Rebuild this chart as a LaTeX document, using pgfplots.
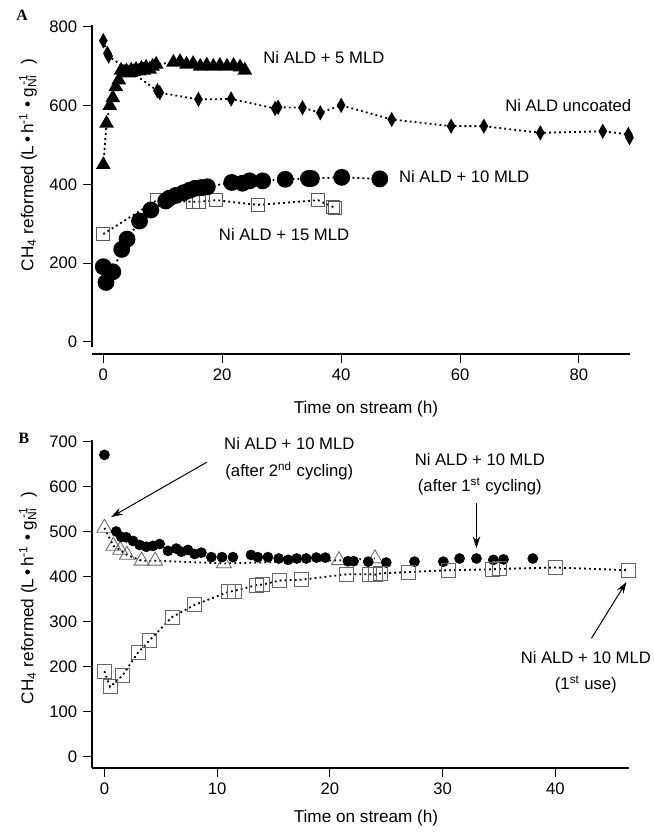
\documentclass[border=0pt]{standalone}
\usepackage{fontspec}
\setmainfont{Liberation Sans}
\newfontfamily\seriffont{Liberation Serif}
\usepackage{pgfplots}
\pgfplotsset{compat=1.18}
\usetikzlibrary{arrows.meta}

\pgfplotsset{
 igor/.style={
  scale only axis,
  axis lines=left,
  axis line style={-, line width=0.8pt},
  tick style={line width=0.6pt, black},
  major tick length=5.4pt,
  tick align=outside,
  /pgf/number format/assume math mode=true,
  tick label style={font=\fontsize{10}{12}\selectfont},
  clip=false,
 },
}
\tikzset{
 dotline/.style={black, line width=1.1pt, dash pattern=on 1.1pt off 1.9pt},
 lab/.style={font=\fontsize{10}{16}\selectfont, align=center},
}

\begin{document}
\begin{tikzpicture}
\useasboundingbox (0,0) rectangle (392.4pt,-499.8pt);

% ---------------- Panel A ----------------
\begin{axis}[igor, at={(55.2pt,-208.2pt)}, anchor=south west,
  width=322.5pt, height=193.2pt,
  xmin=-1.9, xmax=88.5, ymin=-13, ymax=805,
  x axis line style={yshift=-4.2pt},
  xtick style={yshift=-4.2pt},
  xticklabel style={yshift=-4.2pt},
  xtick={0,20,...,80}, ytick={0,200,...,800}]
% Ni ALD + 15 MLD (open squares)
\addplot[dotline, mark=square, mark size=3.9pt,
  mark options={solid, draw=black!65, line width=0.5pt}] coordinates {
 (0,274) (9.0,360) (15.1,356) (16.0,356) (19.0,360) (26.0,348) (36.1,360) (38.6,343) (39.0,341)};
% Ni ALD + 10 MLD (filled circles)
\addplot[dotline, mark=*, mark size=4.5pt, mark options={solid, fill=black}] coordinates {
 (0,191) (0.45,151) (1.6,178) (3.1,235) (4.0,261) (6.1,307) (8.0,335) (10.5,358) (11.1,365)
 (12.2,372) (13.5,379) (14.5,385) (15.4,390) (16.5,392) (17.5,394) (21.6,405) (23.4,403)
 (24.6,409) (26.8,409) (30.6,413) (34.5,415) (35.0,415) (40.1,418) (46.5,414)};
% Ni ALD + 5 MLD (filled triangles)
\addplot[dotline, mark=triangle*, mark size=4pt, mark options={solid, fill=black}] coordinates {
 (0,450) (0.55,555) (1.1,600) (1.6,620) (2.1,648) (2.6,665) (3.0,690) (3.5,685) (3.9,688)
 (4.3,683) (4.7,690) (5.1,686) (5.5,692) (6.0,688) (6.4,695) (6.8,690) (7.2,697) (7.8,692)
 (8.3,700) (8.9,705) (11.8,710) (12.9,712) (14.0,705) (15.1,707) (16.3,700) (17.4,703)
 (18.5,700) (19.6,702) (20.8,700) (21.9,702) (23.0,698) (23.8,690)};
% Ni ALD uncoated (filled diamonds)
\addplot[dotline, mark=diamond*, mark size=3.5pt, mark options={solid, fill=black, xscale=0.75}] coordinates {
 (0,765) (0.7,733) (0.9,726) (9.1,638) (9.5,633) (16.0,616) (21.5,617) (28.9,593) (29.4,596)
 (33.5,595) (36.5,582) (40.0,601) (48.5,565) (58.5,548) (64.0,548) (73.5,531) (84.0,535)
 (88.3,527) (88.5,519)};
\node[lab] at (axis cs:37.1,723) {Ni ALD + 5 MLD};
\node[lab] at (axis cs:78.2,601) {Ni ALD uncoated};
\node[lab] at (axis cs:60.7,421) {Ni ALD + 10 MLD};
\node[lab] at (axis cs:30.4,272) {Ni ALD + 15 MLD};
\end{axis}

% ---------------- Panel B ----------------
\begin{axis}[igor, at={(55.2pt,-460.8pt)}, anchor=south west,
  width=322pt, height=196.8pt,
  xmin=-1.1, xmax=46.5, ymin=-25, ymax=703,
  xtick={0,10,...,40}, ytick={0,100,...,700}]
% after 2nd cycling (open triangles)
\addplot[dotline, mark=triangle, mark size=5.2pt,
  mark options={solid, draw=black!60, line width=0.5pt}] coordinates {
 (0,508) (0.8,468) (1.4,459) (2.0,448) (3.3,435) (4.5,435) (10.6,429) (20.8,436) (24.0,440)};
% after 1st cycling (filled circles, no line)
\addplot[only marks, mark=*, mark size=3pt, mark options={fill=black}] coordinates {
 (0,670) (1.05,500) (1.5,488) (1.94,487) (2.54,479) (3.13,470) (3.72,466) (4.31,468) (4.9,472)
 (5.64,457) (6.38,462) (6.82,455) (7.41,459) (8.0,450) (8.6,453) (9.48,443) (10.43,443)
 (11.4,443) (13.0,448) (13.6,443) (14.5,443) (15.46,440) (16.3,437) (17.06,440) (17.9,440)
 (18.8,442) (19.6,442) (21.6,434) (22.1,434) (23.4,433) (25.0,431) (27.5,433) (30.06,433)
 (31.5,440) (33.0,440) (34.5,437) (35.4,438) (38.0,440)};
% 1st use (open squares)
\addplot[dotline, mark=square, mark size=4.2pt,
  mark options={solid, draw=black!60, line width=0.5pt}] coordinates {
 (0,190) (0.5,155) (1.6,180) (3.0,232) (4.0,258) (6.0,310) (8.0,337) (11.0,366) (11.5,368)
 (13.5,381) (14.0,382) (15.5,391) (17.5,393) (21.5,405) (23.5,405) (24.0,404) (24.5,407)
 (27.0,410) (30.5,414) (34.4,416) (35.0,417) (40.0,420) (46.5,414)};
\node[lab] at (axis cs:16.4,661) {Ni ALD + 10 MLD\\(after 2\textsuperscript{nd} cycling)};
\node[lab] at (axis cs:33.3,627) {Ni ALD + 10 MLD\\(after 1\textsuperscript{st} cycling)};
\node[lab] at (axis cs:42.7,188) {Ni ALD + 10 MLD\\(1\textsuperscript{st} use)};
\draw[line width=0.6pt, -{Stealth[length=7pt,width=4.5pt]}] (axis cs:9.1,654) -- (axis cs:0.6,532);
\draw[line width=0.6pt, -{Stealth[length=7pt,width=4.5pt]}] (axis cs:33.0,563) -- (axis cs:33.0,463);
\draw[line width=0.6pt, -{Stealth[length=7pt,width=4.5pt]}] (axis cs:43.2,263) -- (axis cs:46.3,388);
\end{axis}

% ---------------- labels ----------------
\node[font=\seriffont\bfseries\fontsize{9.5}{11}\selectfont] at (13.2pt,-9pt) {A};
\node[font=\seriffont\bfseries\fontsize{9.5}{11}\selectfont] at (14.4pt,-262.8pt) {B};
\node[font=\fontsize{10.3}{12}\selectfont] at (219.6pt,-245.4pt) {Time on stream (h)};
\node[font=\fontsize{10.3}{12}\selectfont] at (219.6pt,-490.8pt) {Time on stream (h)};
\node[rotate=90, font=\fontsize{10.3}{12}\selectfont] at (16.8pt,-99pt)
  {CH\textsubscript{4} reformed (L\,•\,h\textsuperscript{-1} • g\rlap{\textsubscript{Ni}}\textsuperscript{\,-1}\ \ )};
\node[rotate=90, font=\fontsize{10.3}{12}\selectfont] at (16.8pt,-358.8pt)
  {CH\textsubscript{4} reformed (L\,•\,h\textsuperscript{-1} • g\rlap{\textsubscript{Ni}}\textsuperscript{\,-1}\ \ )};
\end{tikzpicture}
\end{document}
